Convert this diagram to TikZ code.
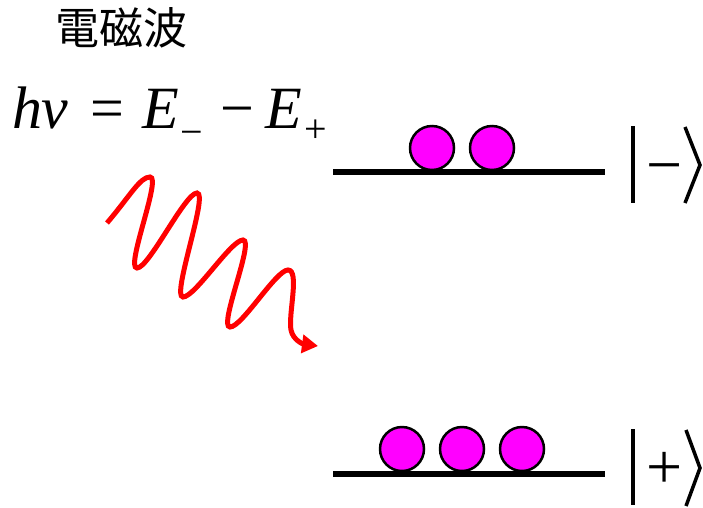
\documentclass[tikz,border=0pt]{standalone}
\usepackage{fontspec}
\setmainfont{Liberation Serif}
\newfontfamily\cjk{Noto Sans CJK JP}
\usetikzlibrary{arrows.meta}
\tikzset{
  ball/.style={circle, draw=black, line width=2.5pt, fill={rgb,255:red,255;green,0;blue,255}, minimum size=44pt, inner sep=0pt},
  level/.style={line width=6pt, black},
  ketline/.style={line width=3.5pt, black, line join=miter},
  wave/.style={line width=5pt, red, line cap=butt, -{Triangle[length=16pt,width=18pt]}},
  sign/.style={inner sep=0pt, anchor=base, font=\fontsize{64}{64}\selectfont}
}
\begin{document}
\begin{tikzpicture}[x=1pt,y=-1pt]
\useasboundingbox (0,0) rectangle (703,507);
% title
\node[inner sep=0pt, font=\cjk\fontsize{44}{44}\selectfont] (title) at (121,28) {電磁波};
% equation
\node[inner sep=0pt, anchor=base west, font=\fontsize{60}{60}\selectfont] (eq) at (12,128)
  {{\itshape h\kern-1ptν}\kern23pt=\kern18pt{\itshape E}\kern1pt\raisebox{-17pt}{\fontsize{40}{40}\selectfont −}\kern18pt−\kern11pt{\itshape E}\kern2pt\raisebox{-14pt}{\fontsize{40}{40}\selectfont +}};
% levels
\coordinate (ul) at (333,171.5); \coordinate (ur) at (605,171.5);
\coordinate (ll) at (333,473.5); \coordinate (lr) at (605,473.5);
\draw[level] (ul) -- (ur);
\draw[level] (ll) -- (lr);
% balls
\node[ball] (u1) at (432,148) {};
\node[ball] (u2) at (492,148) {};
\node[ball] (l1) at (402,449) {};
\node[ball] (l2) at (462,449) {};
\node[ball] (l3) at (522,449) {};
% kets
\node[sign] (minus) at (665,186) {−};
\node[sign] (plus) at (665,488) {+};
\coordinate (mbt) at (633,126); \coordinate (mbb) at (633,203);
\coordinate (mat) at (685,127); \coordinate (map) at (700,165); \coordinate (mab) at (685,203);
\coordinate (pbt) at (633,429); \coordinate (pbb) at (633,505);
\coordinate (pat) at (686,430); \coordinate (pap) at (700,468); \coordinate (pab) at (686,506);
\draw[ketline] (mbt) -- (mbb);
\draw[ketline] (mat) -- (map) -- (mab);
\draw[ketline] (pbt) -- (pbb);
\draw[ketline] (pat) -- (pap) -- (pab);
% wave
\coordinate (ws) at (107,223);
\coordinate (we) at (318,346);
\draw[wave] (ws) .. controls (130,196) and (140,177) .. (150,177)
 .. controls (162,177) and (125,268) .. (137,268)
 .. controls (149,268) and (185,193) .. (197,193)
 .. controls (209,193) and (171,297) .. (183,297)
 .. controls (195,297) and (231,240) .. (243,240)
 .. controls (255,240) and (218,327) .. (230,327)
 .. controls (242,327) and (276,270) .. (288,270)
 .. controls (300,270) and (288,315) .. (291,330)
 .. controls (293,340) and (303,344) .. (we);
\end{tikzpicture}
\end{document}
